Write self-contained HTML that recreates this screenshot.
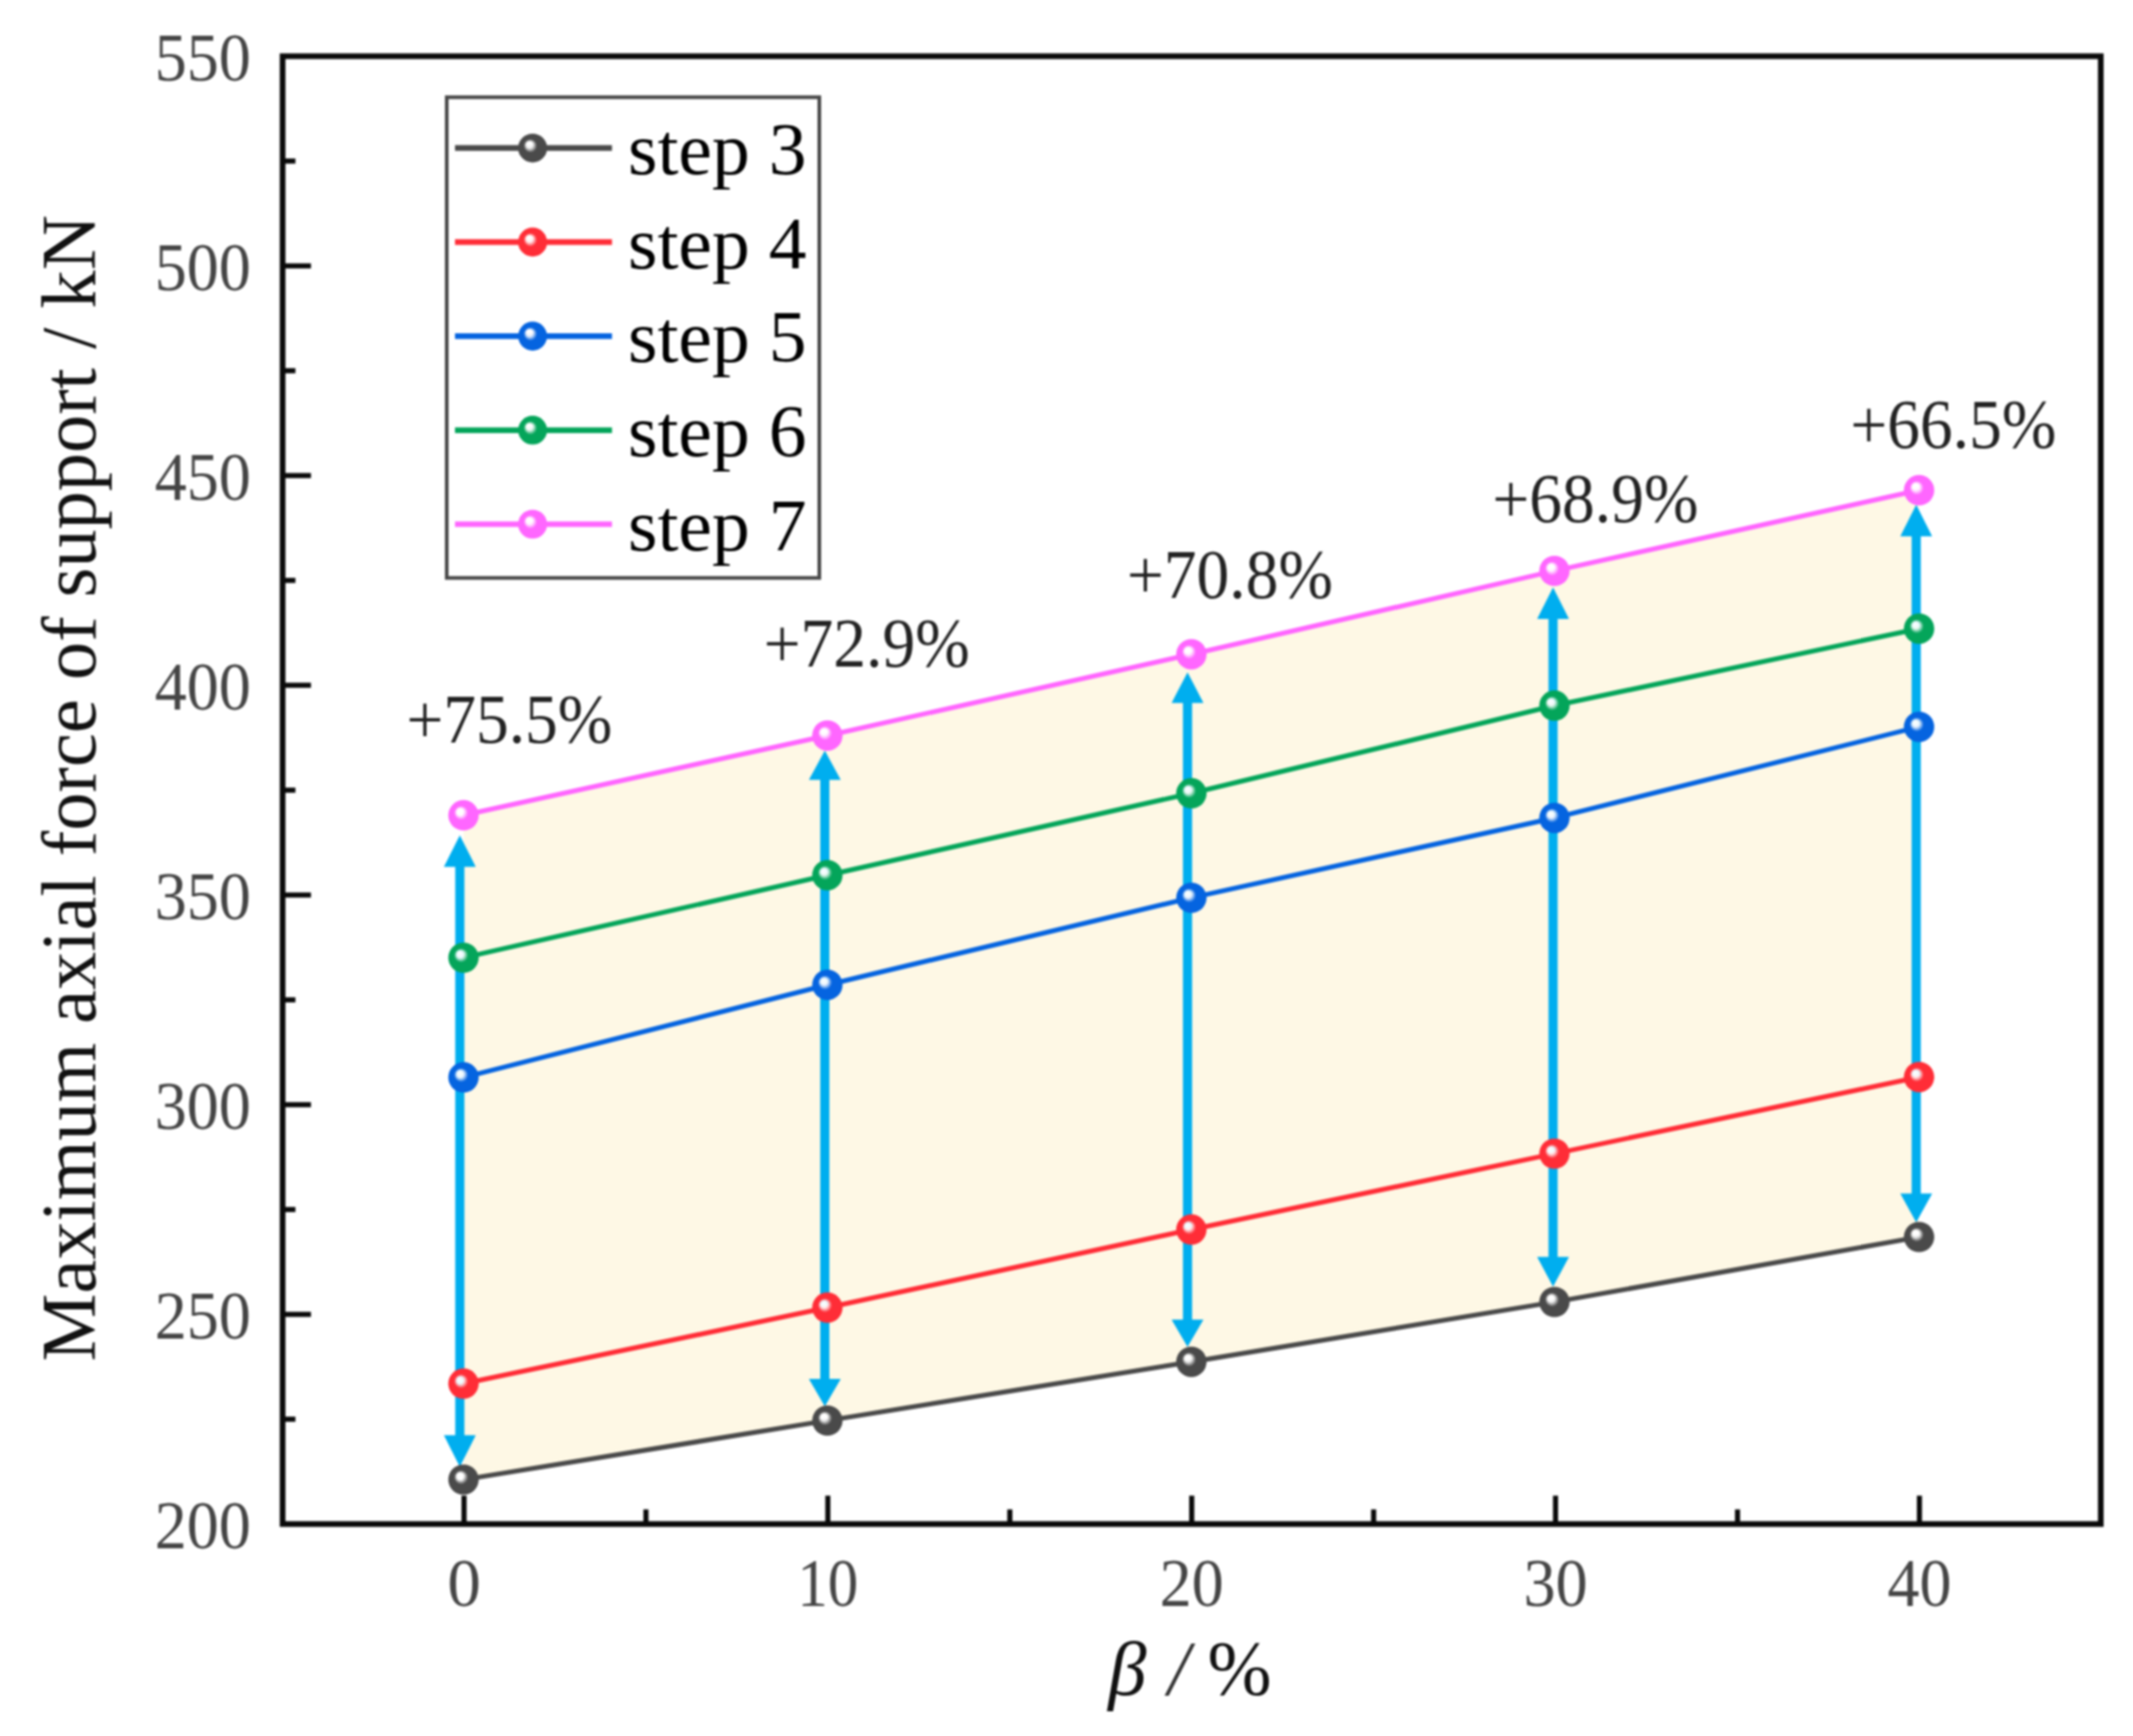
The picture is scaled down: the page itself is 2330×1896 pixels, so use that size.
<!DOCTYPE html>
<html lang="en"><head><meta charset="utf-8"><title>Maximum axial force of support</title>
<style>html,body{margin:0;padding:0;background:#fff}body{width:2330px;height:1896px;overflow:hidden}svg{display:block;filter:blur(0.9px)}text{font-family:"Liberation Serif","Times New Roman",serif}</style></head><body>
<svg width="2330" height="1896" viewBox="0 0 2330 1896">
<defs>
<radialGradient id="g_gray" cx="0.5" cy="0.5" r="0.5" fx="0.36" fy="0.36"><stop offset="0" stop-color="#ffffff"/><stop offset="0.22" stop-color="#ffffff" stop-opacity="0.92"/><stop offset="0.46" stop-color="#4a4a4a"/><stop offset="1" stop-color="#4a4a4a"/></radialGradient>
<radialGradient id="g_red" cx="0.5" cy="0.5" r="0.5" fx="0.36" fy="0.36"><stop offset="0" stop-color="#ffffff"/><stop offset="0.22" stop-color="#ffffff" stop-opacity="0.92"/><stop offset="0.46" stop-color="#ff2d37"/><stop offset="1" stop-color="#ff2d37"/></radialGradient>
<radialGradient id="g_blue" cx="0.5" cy="0.5" r="0.5" fx="0.36" fy="0.36"><stop offset="0" stop-color="#ffffff"/><stop offset="0.22" stop-color="#ffffff" stop-opacity="0.92"/><stop offset="0.46" stop-color="#0564e0"/><stop offset="1" stop-color="#0564e0"/></radialGradient>
<radialGradient id="g_green" cx="0.5" cy="0.5" r="0.5" fx="0.36" fy="0.36"><stop offset="0" stop-color="#ffffff"/><stop offset="0.22" stop-color="#ffffff" stop-opacity="0.92"/><stop offset="0.46" stop-color="#04a55a"/><stop offset="1" stop-color="#04a55a"/></radialGradient>
<radialGradient id="g_magenta" cx="0.5" cy="0.5" r="0.5" fx="0.36" fy="0.36"><stop offset="0" stop-color="#ffffff"/><stop offset="0.22" stop-color="#ffffff" stop-opacity="0.92"/><stop offset="0.46" stop-color="#ff66ff"/><stop offset="1" stop-color="#ff66ff"/></radialGradient>
</defs>
<rect width="2330" height="1896" fill="#ffffff"/>
<polygon fill="#fef8e5" points="506.3,890.4 903.8,803.3 1301.4,714.6 1698.0,623.5 2096.3,535.4 2096.3,1351.0 1698.0,1422.0 1301.4,1487.3 903.8,1551.5 506.3,1616.0"/>
<line x1="502.3" y1="944.7" x2="502.3" y2="1569.5" stroke="#00aeef" stroke-width="10"/>
<polygon fill="#00aeef" points="502.3,912.2 484.9,946.7 519.7,946.7"/>
<polygon fill="#00aeef" points="502.3,1602.0 484.9,1567.5 519.7,1567.5"/>
<line x1="901.0" y1="849.8" x2="901.0" y2="1508.0" stroke="#00aeef" stroke-width="10"/>
<polygon fill="#00aeef" points="901.0,819.8 883.6,851.8 918.4,851.8"/>
<polygon fill="#00aeef" points="901.0,1536.0 883.6,1506.0 918.4,1506.0"/>
<line x1="1297.2" y1="765.7" x2="1297.2" y2="1443.3" stroke="#00aeef" stroke-width="10"/>
<polygon fill="#00aeef" points="1297.2,734.2 1279.8,767.7 1314.6,767.7"/>
<polygon fill="#00aeef" points="1297.2,1471.0 1279.8,1441.3 1314.6,1441.3"/>
<line x1="1696.5" y1="674.0" x2="1696.5" y2="1374.7" stroke="#00aeef" stroke-width="10"/>
<polygon fill="#00aeef" points="1696.5,641.5 1679.1,676.0 1713.9,676.0"/>
<polygon fill="#00aeef" points="1696.5,1405.2 1679.1,1372.7 1713.9,1372.7"/>
<line x1="2093.2" y1="583.7" x2="2093.2" y2="1305.5" stroke="#00aeef" stroke-width="10"/>
<polygon fill="#00aeef" points="2093.2,551.2 2075.8,585.7 2110.6,585.7"/>
<polygon fill="#00aeef" points="2093.2,1335.0 2075.8,1303.5 2110.6,1303.5"/>
<polyline fill="none" stroke="#4a4a4a" stroke-width="5.3" stroke-linejoin="round" points="506.3,1616.0 903.8,1551.5 1301.4,1487.3 1698.0,1422.0 2096.3,1351.0"/>
<circle cx="506.3" cy="1616.0" r="16.6" fill="url(#g_gray)"/>
<circle cx="903.8" cy="1551.5" r="16.6" fill="url(#g_gray)"/>
<circle cx="1301.4" cy="1487.3" r="16.6" fill="url(#g_gray)"/>
<circle cx="1698.0" cy="1422.0" r="16.6" fill="url(#g_gray)"/>
<circle cx="2096.3" cy="1351.0" r="16.6" fill="url(#g_gray)"/>
<polyline fill="none" stroke="#ff2d37" stroke-width="5.3" stroke-linejoin="round" points="506.3,1511.2 903.8,1428.2 1301.4,1342.9 1698.0,1260.0 2096.3,1176.3"/>
<circle cx="506.3" cy="1511.2" r="16.6" fill="url(#g_red)"/>
<circle cx="903.8" cy="1428.2" r="16.6" fill="url(#g_red)"/>
<circle cx="1301.4" cy="1342.9" r="16.6" fill="url(#g_red)"/>
<circle cx="1698.0" cy="1260.0" r="16.6" fill="url(#g_red)"/>
<circle cx="2096.3" cy="1176.3" r="16.6" fill="url(#g_red)"/>
<polyline fill="none" stroke="#0564e0" stroke-width="5.3" stroke-linejoin="round" points="506.3,1176.7 903.8,1075.6 1301.4,980.5 1698.0,893.3 2096.3,793.8"/>
<circle cx="506.3" cy="1176.7" r="16.6" fill="url(#g_blue)"/>
<circle cx="903.8" cy="1075.6" r="16.6" fill="url(#g_blue)"/>
<circle cx="1301.4" cy="980.5" r="16.6" fill="url(#g_blue)"/>
<circle cx="1698.0" cy="893.3" r="16.6" fill="url(#g_blue)"/>
<circle cx="2096.3" cy="793.8" r="16.6" fill="url(#g_blue)"/>
<polyline fill="none" stroke="#04a55a" stroke-width="5.3" stroke-linejoin="round" points="506.3,1046.0 903.8,955.8 1301.4,866.4 1698.0,770.7 2096.3,686.6"/>
<circle cx="506.3" cy="1046.0" r="16.6" fill="url(#g_green)"/>
<circle cx="903.8" cy="955.8" r="16.6" fill="url(#g_green)"/>
<circle cx="1301.4" cy="866.4" r="16.6" fill="url(#g_green)"/>
<circle cx="1698.0" cy="770.7" r="16.6" fill="url(#g_green)"/>
<circle cx="2096.3" cy="686.6" r="16.6" fill="url(#g_green)"/>
<polyline fill="none" stroke="#ff66ff" stroke-width="5.3" stroke-linejoin="round" points="506.3,890.4 903.8,803.3 1301.4,714.6 1698.0,623.5 2096.3,535.4"/>
<circle cx="506.3" cy="890.4" r="16.6" fill="url(#g_magenta)"/>
<circle cx="903.8" cy="803.3" r="16.6" fill="url(#g_magenta)"/>
<circle cx="1301.4" cy="714.6" r="16.6" fill="url(#g_magenta)"/>
<circle cx="1698.0" cy="623.5" r="16.6" fill="url(#g_magenta)"/>
<circle cx="2096.3" cy="535.4" r="16.6" fill="url(#g_magenta)"/>
<rect x="308.7" y="61.4" width="1986.1" height="1603.1" fill="none" stroke="#0a0a0a" stroke-width="6.2"/>
<line x1="308.7" y1="1550.0" x2="322.7" y2="1550.0" stroke="#0a0a0a" stroke-width="5.6"/>
<line x1="308.7" y1="1435.5" x2="339.7" y2="1435.5" stroke="#0a0a0a" stroke-width="5.6"/>
<line x1="308.7" y1="1321.0" x2="322.7" y2="1321.0" stroke="#0a0a0a" stroke-width="5.6"/>
<line x1="308.7" y1="1206.5" x2="339.7" y2="1206.5" stroke="#0a0a0a" stroke-width="5.6"/>
<line x1="308.7" y1="1092.0" x2="322.7" y2="1092.0" stroke="#0a0a0a" stroke-width="5.6"/>
<line x1="308.7" y1="977.5" x2="339.7" y2="977.5" stroke="#0a0a0a" stroke-width="5.6"/>
<line x1="308.7" y1="863.0" x2="322.7" y2="863.0" stroke="#0a0a0a" stroke-width="5.6"/>
<line x1="308.7" y1="748.4" x2="339.7" y2="748.4" stroke="#0a0a0a" stroke-width="5.6"/>
<line x1="308.7" y1="633.9" x2="322.7" y2="633.9" stroke="#0a0a0a" stroke-width="5.6"/>
<line x1="308.7" y1="519.4" x2="339.7" y2="519.4" stroke="#0a0a0a" stroke-width="5.6"/>
<line x1="308.7" y1="404.9" x2="322.7" y2="404.9" stroke="#0a0a0a" stroke-width="5.6"/>
<line x1="308.7" y1="290.4" x2="339.7" y2="290.4" stroke="#0a0a0a" stroke-width="5.6"/>
<line x1="308.7" y1="175.9" x2="322.7" y2="175.9" stroke="#0a0a0a" stroke-width="5.6"/>
<line x1="506.9" y1="1664.5" x2="506.9" y2="1633.5" stroke="#0a0a0a" stroke-width="5.6"/>
<line x1="705.6" y1="1664.5" x2="705.6" y2="1648.5" stroke="#0a0a0a" stroke-width="5.6"/>
<line x1="904.3" y1="1664.5" x2="904.3" y2="1633.5" stroke="#0a0a0a" stroke-width="5.6"/>
<line x1="1103.1" y1="1664.5" x2="1103.1" y2="1648.5" stroke="#0a0a0a" stroke-width="5.6"/>
<line x1="1301.8" y1="1664.5" x2="1301.8" y2="1633.5" stroke="#0a0a0a" stroke-width="5.6"/>
<line x1="1500.5" y1="1664.5" x2="1500.5" y2="1648.5" stroke="#0a0a0a" stroke-width="5.6"/>
<line x1="1699.2" y1="1664.5" x2="1699.2" y2="1633.5" stroke="#0a0a0a" stroke-width="5.6"/>
<line x1="1898.0" y1="1664.5" x2="1898.0" y2="1648.5" stroke="#0a0a0a" stroke-width="5.6"/>
<line x1="2096.7" y1="1664.5" x2="2096.7" y2="1633.5" stroke="#0a0a0a" stroke-width="5.6"/>
<text x="274" y="1691.0" font-size="74" fill="#454545" text-anchor="end" textLength="105" lengthAdjust="spacingAndGlyphs">200</text>
<text x="274" y="1462.0" font-size="74" fill="#454545" text-anchor="end" textLength="105" lengthAdjust="spacingAndGlyphs">250</text>
<text x="274" y="1233.0" font-size="74" fill="#454545" text-anchor="end" textLength="105" lengthAdjust="spacingAndGlyphs">300</text>
<text x="274" y="1004.0" font-size="74" fill="#454545" text-anchor="end" textLength="105" lengthAdjust="spacingAndGlyphs">350</text>
<text x="274" y="774.9" font-size="74" fill="#454545" text-anchor="end" textLength="105" lengthAdjust="spacingAndGlyphs">400</text>
<text x="274" y="545.9" font-size="74" fill="#454545" text-anchor="end" textLength="105" lengthAdjust="spacingAndGlyphs">450</text>
<text x="274" y="316.9" font-size="74" fill="#454545" text-anchor="end" textLength="105" lengthAdjust="spacingAndGlyphs">500</text>
<text x="274" y="87.9" font-size="74" fill="#454545" text-anchor="end" textLength="105" lengthAdjust="spacingAndGlyphs">550</text>
<text x="506.9" y="1754" font-size="74" fill="#454545" text-anchor="middle" textLength="36.5" lengthAdjust="spacingAndGlyphs">0</text>
<text x="904.3" y="1754" font-size="74" fill="#454545" text-anchor="middle" textLength="66.5" lengthAdjust="spacingAndGlyphs">10</text>
<text x="1301.8" y="1754" font-size="74" fill="#454545" text-anchor="middle" textLength="70" lengthAdjust="spacingAndGlyphs">20</text>
<text x="1699.2" y="1754" font-size="74" fill="#454545" text-anchor="middle" textLength="70" lengthAdjust="spacingAndGlyphs">30</text>
<text x="2096.7" y="1754" font-size="74" fill="#454545" text-anchor="middle" textLength="70" lengthAdjust="spacingAndGlyphs">40</text>
<text y="1851" font-size="84" fill="#111"><tspan x="1210.5" font-style="italic">β</tspan><tspan x="1276" font-style="italic" fill="#333">/</tspan><tspan x="1319">%</tspan></text>
<text transform="translate(103.5,861) rotate(-90)" font-size="84" fill="#111" text-anchor="middle" textLength="1252" lengthAdjust="spacingAndGlyphs">Maximum axial force of support / kN</text>
<text x="443.9" y="811.3" font-size="76" fill="#222" textLength="225" lengthAdjust="spacingAndGlyphs">+75.5%</text>
<text x="834.2" y="727.5" font-size="76" fill="#222" textLength="225" lengthAdjust="spacingAndGlyphs">+72.9%</text>
<text x="1231.0" y="652.7" font-size="76" fill="#222" textLength="225" lengthAdjust="spacingAndGlyphs">+70.8%</text>
<text x="1630.3" y="569.9" font-size="76" fill="#222" textLength="225" lengthAdjust="spacingAndGlyphs">+68.9%</text>
<text x="2021.3" y="489.1" font-size="76" fill="#222" textLength="225" lengthAdjust="spacingAndGlyphs">+66.5%</text>
<rect x="488" y="106.2" width="407" height="525" fill="#ffffff" stroke="#484848" stroke-width="4"/>
<line x1="497" y1="161.7" x2="668.5" y2="161.7" stroke="#4a4a4a" stroke-width="6.2"/>
<circle cx="581.8" cy="161.7" r="15.8" fill="url(#g_gray)"/>
<text x="686" y="190.0" font-size="80" fill="#000" textLength="195" lengthAdjust="spacingAndGlyphs">step 3</text>
<line x1="497" y1="264.4" x2="668.5" y2="264.4" stroke="#ff2d37" stroke-width="6.2"/>
<circle cx="581.8" cy="264.4" r="15.8" fill="url(#g_red)"/>
<text x="686" y="292.7" font-size="80" fill="#000" textLength="195" lengthAdjust="spacingAndGlyphs">step 4</text>
<line x1="497" y1="367.1" x2="668.5" y2="367.1" stroke="#0564e0" stroke-width="6.2"/>
<circle cx="581.8" cy="367.1" r="15.8" fill="url(#g_blue)"/>
<text x="686" y="395.4" font-size="80" fill="#000" textLength="195" lengthAdjust="spacingAndGlyphs">step 5</text>
<line x1="497" y1="469.8" x2="668.5" y2="469.8" stroke="#04a55a" stroke-width="6.2"/>
<circle cx="581.8" cy="469.8" r="15.8" fill="url(#g_green)"/>
<text x="686" y="498.1" font-size="80" fill="#000" textLength="195" lengthAdjust="spacingAndGlyphs">step 6</text>
<line x1="497" y1="572.5" x2="668.5" y2="572.5" stroke="#ff66ff" stroke-width="6.2"/>
<circle cx="581.8" cy="572.5" r="15.8" fill="url(#g_magenta)"/>
<text x="686" y="600.8" font-size="80" fill="#000" textLength="195" lengthAdjust="spacingAndGlyphs">step 7</text>
</svg></body></html>
